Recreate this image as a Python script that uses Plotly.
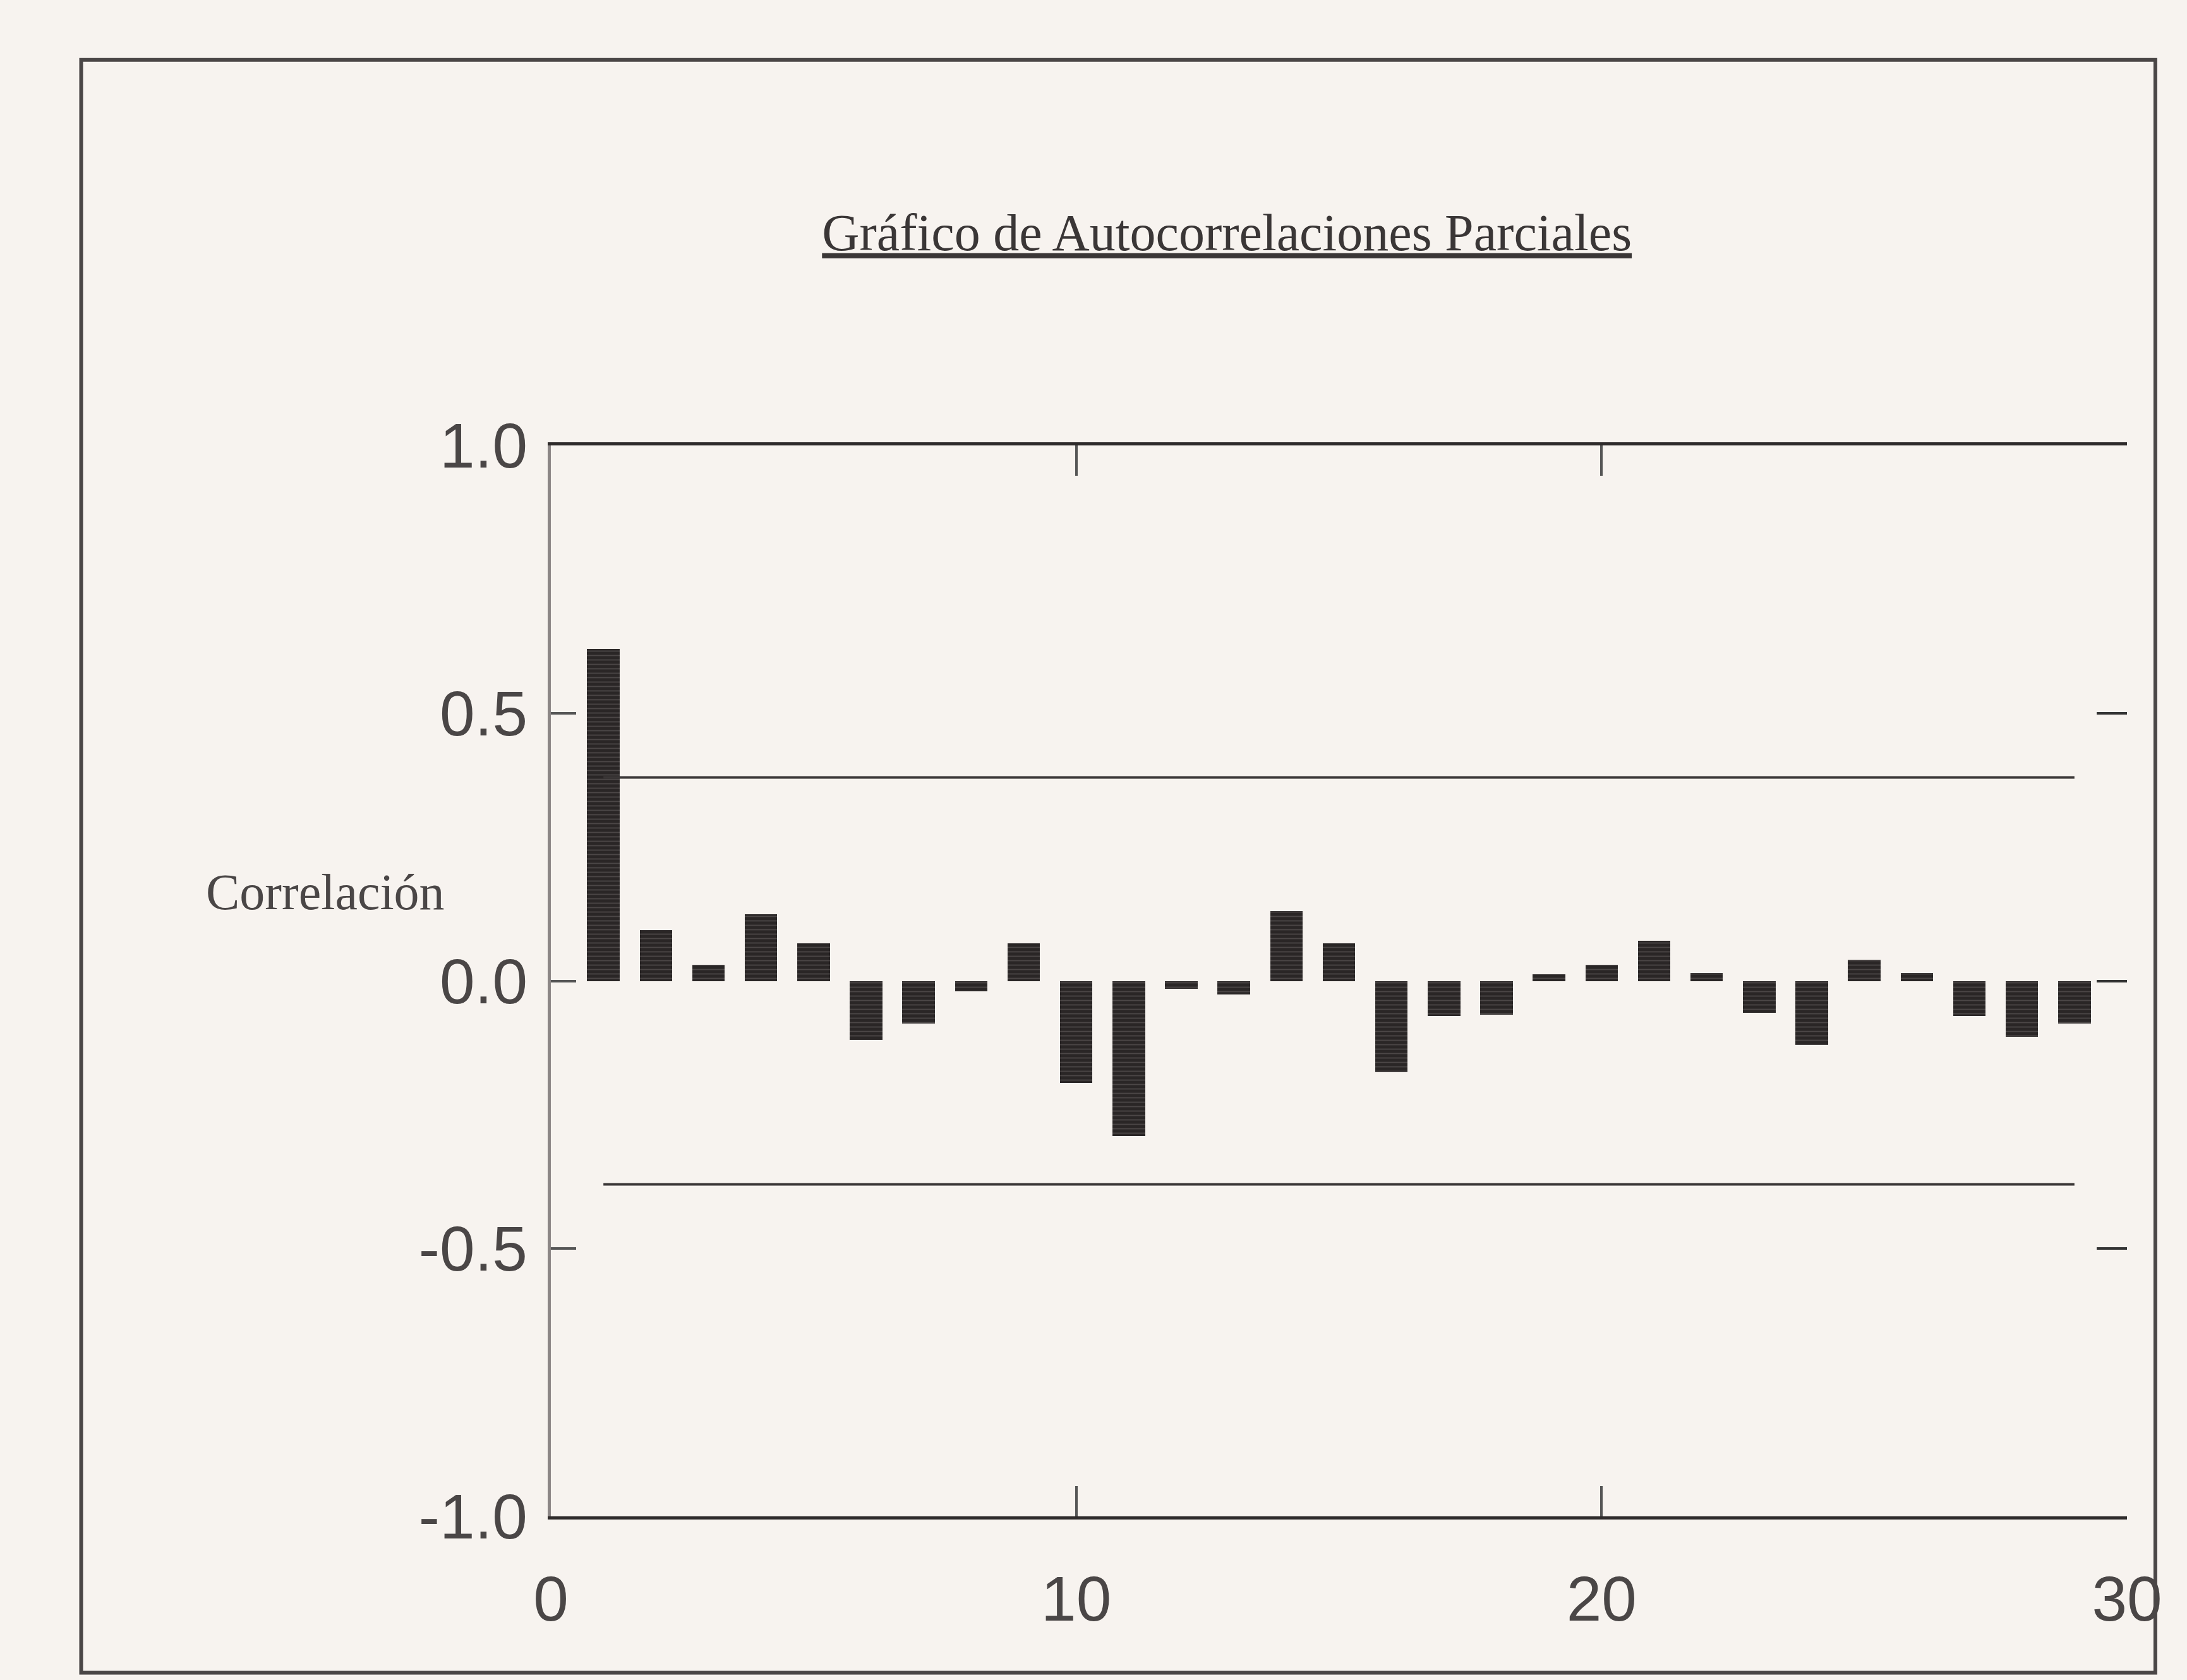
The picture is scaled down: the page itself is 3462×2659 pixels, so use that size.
import plotly.graph_objects as go

# Partial autocorrelation by lag
lags = list(range(1, 30))
pacf = [0.62, 0.095, 0.03, 0.125, 0.07, -0.11, -0.08, -0.02, 0.07, -0.19,
        -0.29, -0.015, -0.025, 0.13, 0.07, -0.17, -0.065, -0.063, 0.012, 0.03,
        0.075, 0.015, -0.06, -0.12, 0.04, 0.015, -0.065, -0.105, -0.08]

# Approximate 95% confidence band
ci_upper = [0.38] * len(lags)
ci_lower = [-0.38] * len(lags)

y_ticks = [-1.0, -0.5, 0.0, 0.5, 1.0]
y_tick_text = ["-1.0", "-0.5", "0.0", "0.5", "1.0"]
x_ticks = [0, 10, 20, 30]

title_text = "Gráfico de Autocorrelaciones Parciales"
y_title = "Correlación"

paper = "#f7f3ef"
ink = "#2a2626"

fig = go.Figure()

fig.add_trace(go.Bar(
    x=lags, y=pacf, width=0.62,
    marker=dict(
        color=ink,
        line=dict(width=0),
        pattern=dict(shape="-", fgcolor="#6e6868", bgcolor=ink,
                     size=7, solidity=0.25),
    ),
    showlegend=False,
))

for band in (ci_upper, ci_lower):
    fig.add_trace(go.Scatter(
        x=lags, y=band, mode="lines", yaxis="y2",
        line=dict(color="#3a3636", width=4),
        showlegend=False, hoverinfo="skip",
    ))

tick_font = dict(family="Liberation Sans, Arial, sans-serif", size=100, color="#4a4646")

fig.update_layout(
    width=3462, height=2659,
    paper_bgcolor=paper, plot_bgcolor=paper,
    margin=dict(l=872, r=95, t=705, b=259),
    bargap=0,
    title=dict(
        text=title_text,
        x=0.561, xanchor="center", y=0.862, yanchor="middle",
        font=dict(family="Liberation Serif, Times New Roman, serif", size=82,
                  color="#3a3636", lineposition="under"),
    ),
    xaxis=dict(
        range=[0, 30], tickvals=x_ticks,
        ticks="inside", ticklen=48, tickwidth=4, tickcolor="#555",
        showline=True, linecolor="#2e2a2a", linewidth=5, mirror="ticks",
        showgrid=False, zeroline=False,
        tickfont=tick_font, ticklabelstandoff=40,
    ),
    yaxis=dict(
        range=[-1, 1], tickvals=y_ticks, ticktext=y_tick_text,
        ticks="inside", ticklen=40, tickwidth=4, tickcolor="#555",
        showline=True, linecolor="#8c8686", linewidth=5,
        showgrid=False, zeroline=False,
        tickfont=tick_font, ticklabelstandoff=12,
    ),
    yaxis2=dict(
        range=[-1, 1], tickvals=y_ticks, overlaying="y", side="right",
        anchor="x", ticks="inside", ticklen=48, tickwidth=4, tickcolor="#333",
        showline=False, showticklabels=False, showgrid=False, zeroline=False,
    ),
    annotations=[dict(
        text=y_title, xref="paper", yref="paper",
        x=-0.143, y=0.583, xanchor="center", yanchor="middle",
        showarrow=False,
        font=dict(family="Liberation Serif, Times New Roman, serif", size=80,
                  color="#4a4646"),
    )],
    shapes=[dict(
        type="rect", xref="paper", yref="paper",
        x0=-0.298, x1=1.018, y0=-0.146, y1=1.36,
        line=dict(color="#4a4646", width=6), layer="below",
    )],
)

fig.write_html("out.html")
